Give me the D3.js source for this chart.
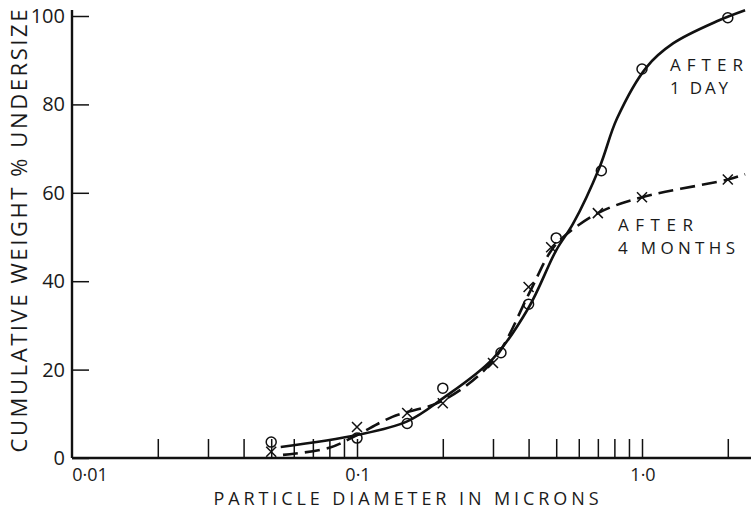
<!DOCTYPE html>
<meta charset='utf-8'>
<head>
  <title>Particle size distribution</title>
  <style>
    body { margin: 0; background: #fff; }
    text { font-family: 'Open Sans', 'DejaVu Sans', sans-serif; font-weight: 400; fill: #1a1a1a; }
  </style>
</head>
<body>
  <div id='chart'></div>
</body>
<script src='https://d3js.org/d3.v7.min.js'></script>
<script>

// measured points, after 1 day (circles)
var dayX = [0.05, 0.1, 0.15, 0.2, 0.32, 0.4, 0.5, 0.72, 1.0, 2.0],
    dayY = [3.6, 4.5, 7.8, 15.8, 23.8, 34.8, 49.8, 65, 88, 99.6];

// measured points, after 4 months (crosses)
var monthX = [0.05, 0.1, 0.15, 0.2, 0.3, 0.4, 0.48, 0.7, 1.0, 2.0],
    monthY = [1.4, 7.0, 10.2, 12.4, 21.5, 38.7, 47.7, 55.4, 59, 63];

// hand drawn curves
var dayCurveX = [0.054, 0.1, 0.15, 0.2, 0.3, 0.4, 0.5, 0.573, 0.71, 0.817, 1.04, 1.285, 1.83, 2.3],
    dayCurveY = [2.5, 5.2, 8.3, 13.5, 22.5, 34, 47, 53, 65.8, 76.8, 88.5, 93.8, 98.8, 101.3];
var monthCurveX = [0.055, 0.08, 0.1, 0.133, 0.2, 0.3, 0.4, 0.47, 0.515, 0.7, 1.0, 2.0, 2.3],
    monthCurveY = [0.7, 2.3, 5.2, 9.3, 13, 22, 37, 46, 49.3, 55.4, 59, 63, 64.2];

var xTicks = [0.02, 0.03, 0.04, 0.05, 0.06, 0.07, 0.08, 0.09, 0.1,
              0.2, 0.3, 0.4, 0.5, 0.6, 0.7, 0.8, 0.9, 1.0, 2.0],
    xLabels = [0.01, 0.1, 1.0],
    xLabelText = ['0·01', '0·1', '1·0'],
    yTicks = [0, 20, 40, 60, 80, 100];

var width = 751, height = 511;

var x = d3.scaleLog().domain([0.01, 1]).range([72, 642]),
    y = d3.scaleLinear().domain([0, 100]).range([458, 16]);

var svg = d3.select('#chart').append('svg')
    .attr('width', width)
    .attr('height', height);

// x axis, ticks pointing up into the plot
var xAxis = d3.axisBottom(x)
    .tickValues(xTicks)
    .tickSizeInner(-19)
    .tickSizeOuter(0)
    .tickFormat('');

svg.append('g')
    .attr('transform', 'translate(0,' + y(0) + ')')
    .call(xAxis)
    .call(function(g) {
      g.select('.domain').attr('d', 'M72,0H' + width).attr('stroke', '#111').attr('stroke-width', 2.4);
      g.selectAll('.tick line').attr('stroke', '#111').attr('stroke-width', 1.5);
    });

svg.append('g').selectAll('text')
    .data(xLabels)
  .enter().append('text')
    .attr('x', function(d, i) { return x(d) + (i == 0 ? 18 : 1); })
    .attr('y', 481)
    .attr('text-anchor', 'middle')
    .style('font-size', '18px')
    .text(function(d, i) { return xLabelText[i]; });

// y axis, ticks pointing right
var yAxis = d3.axisLeft(y)
    .tickValues(yTicks)
    .tickSizeInner(-17)
    .tickSizeOuter(0)
    .tickFormat('');

svg.append('g')
    .attr('transform', 'translate(72,0)')
    .call(yAxis)
    .call(function(g) {
      g.select('.domain').attr('d', 'M0,' + y(0) + 'V10').attr('stroke', '#111').attr('stroke-width', 2.4);
      g.selectAll('.tick line').attr('stroke', '#111').attr('stroke-width', 1.5);
    });

svg.append('g').selectAll('text')
    .data(yTicks)
  .enter().append('text')
    .attr('x', 65)
    .attr('y', function(d) { return y(d) + 7; })
    .attr('text-anchor', 'end')
    .style('font-size', '20px')
    .text(function(d) { return d; });

// axis titles
svg.append('text')
    .attr('transform', 'translate(27,231) rotate(-90)')
    .attr('text-anchor', 'middle')
    .attr('textLength', 443)
    .attr('lengthAdjust', 'spacing')
    .style('font-size', '22px')
    .text('CUMULATIVE WEIGHT % UNDERSIZE');

svg.append('text')
    .attr('x', 406)
    .attr('y', 505)
    .attr('text-anchor', 'middle')
    .attr('textLength', 385)
    .attr('lengthAdjust', 'spacing')
    .style('font-size', '18px')
    .text('PARTICLE DIAMETER IN MICRONS');

// curves
var line = d3.line()
    .x(function(d) { return x(d[0]); })
    .y(function(d) { return y(d[1]); })
    .curve(d3.curveCatmullRom.alpha(0.5));

svg.append('path')
    .datum(d3.zip(dayCurveX, dayCurveY))
    .attr('d', line)
    .attr('fill', 'none')
    .attr('stroke', '#111')
    .attr('stroke-width', 2.6);

svg.append('path')
    .datum(d3.zip(monthCurveX, monthCurveY))
    .attr('d', line)
    .attr('fill', 'none')
    .attr('stroke', '#111')
    .attr('stroke-width', 2.6)
    .attr('stroke-dasharray', '15,7');

// markers
svg.append('g').selectAll('circle')
    .data(d3.zip(dayX, dayY))
  .enter().append('circle')
    .attr('cx', function(d) { return x(d[0]); })
    .attr('cy', function(d) { return y(d[1]); })
    .attr('r', 5)
    .attr('fill', 'none')
    .attr('stroke', '#111')
    .attr('stroke-width', 1.5);

svg.append('g').selectAll('path')
    .data(d3.zip(monthX, monthY))
  .enter().append('path')
    .attr('d', function(d) {
      var cx = x(d[0]), cy = y(d[1]), s = 5;
      return 'M' + (cx - s) + ',' + (cy - s) + 'L' + (cx + s) + ',' + (cy + s) +
             'M' + (cx - s) + ',' + (cy + s) + 'L' + (cx + s) + ',' + (cy - s);
    })
    .attr('stroke', '#111')
    .attr('stroke-width', 1.5);

// curve labels
var notes = [
  { text: 'AFTER', x: 670, y: 71, w: 73 },
  { text: '1 DAY', x: 670, y: 94, w: 58 },
  { text: 'AFTER', x: 618, y: 231, w: 75 },
  { text: '4 MONTHS', x: 618, y: 254, w: 117 }
];

svg.append('g').selectAll('text')
    .data(notes)
  .enter().append('text')
    .attr('x', function(d) { return d.x; })
    .attr('y', function(d) { return d.y; })
    .attr('textLength', function(d) { return d.w; })
    .attr('lengthAdjust', 'spacing')
    .style('font-size', '17px')
    .text(function(d) { return d.text; });

</script>
